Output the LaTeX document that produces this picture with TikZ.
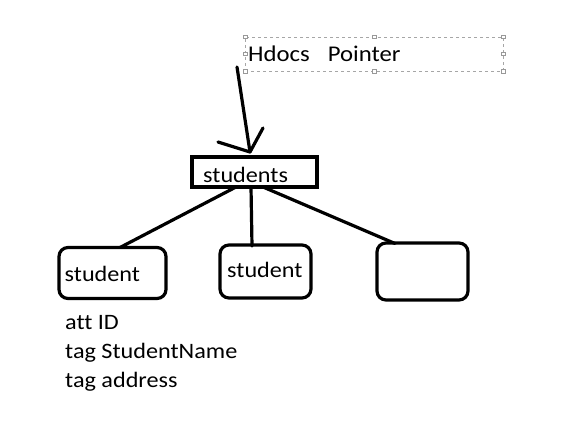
\documentclass[tikz,border=0pt]{standalone}
\usepackage{fontspec}
\setmainfont{Carlito}[FakeStretch=1.1, Ligatures={NoCommon}]
\begin{document}
\begin{tikzpicture}[x=1pt,y=-1pt,
  thick line/.style={line width=3.2pt, line cap=round, line join=round},
  boxrect/.style={draw, line width=3.2pt, minimum width=125pt, minimum height=30pt, inner sep=0pt},
  childbox/.style={draw, line width=3.2pt, rounded corners=9pt, inner sep=0pt},
  handle/.style={draw=gray!80, fill=white, line width=0.5pt, minimum size=3.5pt, inner sep=0pt},
  lbl/.style={anchor=base west, inner sep=0pt, font=\fontsize{22}{26}\selectfont}
]
\useasboundingbox (0,0) rectangle (564,420);
% dashed text box
\node[draw=gray!70, dashed, line width=0.6pt, minimum width=258pt, minimum height=34pt, inner sep=0pt] (tbox) at (374,54) {};
\foreach \p [count=\i] in {(245,37),(374,37),(503,37),(245,54),(503,54),(245,71),(374,71),(503,71)}
  \node[handle] (h\i) at \p {};
\node[lbl, font=\fontsize{22.5}{26}\selectfont] (title) at (248,62) {Hdocs\hspace{0.8em}Pointer};
% arrow
\coordinate (atop) at (237,67);
\coordinate (atip) at (250,152);
\coordinate (aleft) at (218,142);
\coordinate (aright) at (263,128);
\draw[thick line] (atop) -- (atip);
\draw[thick line] (aleft) -- (atip) -- (aright);
% students box
\node[boxrect] (students) at (254.5,172) {};
\node[lbl] (stxt) at (203,182) {students};
% children
\node[childbox, minimum width=107pt, minimum height=51pt] (c1) at (112.5,273) {};
\node[childbox, minimum width=91pt, minimum height=53pt] (c2) at (265.5,271.5) {};
\node[childbox, minimum width=91pt, minimum height=57pt] (c3) at (422.5,271.5) {};
\node[lbl] (c1txt) at (64.5,281) {student};
\node[lbl] (c2txt) at (227,277) {student};
% connectors
\coordinate (s1) at (236,187);
\coordinate (s2) at (251,187);
\coordinate (s3) at (263,187);
\coordinate (e1) at (120,247.5);
\coordinate (e2) at (252,246);
\coordinate (e3) at (395,243.5);
\draw[thick line] (s1) -- (e1);
\draw[thick line] (s2) -- (e2);
\draw[thick line] (s3) -- (e3);
% attribute text
\node[lbl] (t1) at (65,329) {att ID};
\node[lbl] (t2) at (65,358) {tag StudentName};
\node[lbl] (t3) at (65,387) {tag address};
\end{tikzpicture}
\end{document}
